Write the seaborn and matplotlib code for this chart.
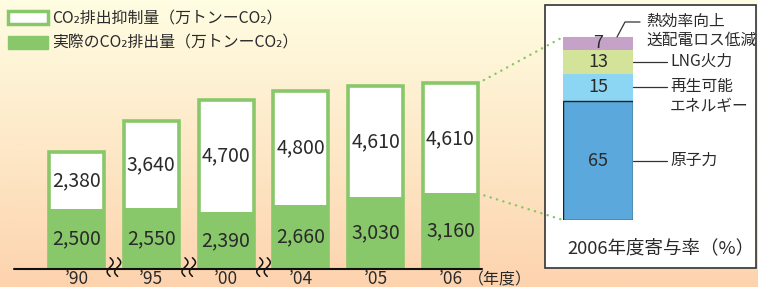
#%% CO2 排出抑制量と実際の排出量
import numpy as np
import pandas as pd
import matplotlib.pyplot as plt
import seaborn as sns
from matplotlib.patches import Patch, Rectangle, ConnectionPatch
from matplotlib.colors import LinearSegmentedColormap

#%% データ
years = ['’90', '’95', '’00', '’04', '’05', '’06']
actual = [2500, 2550, 2390, 2660, 3030, 3160]        # 実際のCO2排出量
suppressed = [2380, 3640, 4700, 4800, 4610, 4610]    # CO2排出抑制量

share_labels = ['原子力', '再生可能\nエネルギー', 'LNG火力', '熱効率向上\n送配電ロス低減']
share_values = [65, 15, 13, 7]

green = '#88c86a'
share_colors = ['#5aa8dc', '#8cd6f4', '#d4e39a', '#c6a2c8']

#%% テーマとフォント
sns.set_theme(style='white')
plt.rcParams['font.family'] = ['Noto Sans CJK JP', 'DejaVu Sans']
txt = '#2a2a2a'

W, H = 758, 287
fig = plt.figure(figsize=(W / 100, H / 100), dpi=100)

def fr(x0, y0, x1, y1):
    # ピクセル(左上原点) -> figure座標 [left, bottom, width, height]
    return [x0 / W, 1 - y1 / H, (x1 - x0) / W, (y1 - y0) / H]

# 背景グラデーション
bg = fig.add_axes([0, 0, 1, 1])
cmap = LinearSegmentedColormap.from_list('bg', ['#fffde2', '#fde9c8', '#fdd3ae'])
bg.imshow(np.linspace(0, 1, 256).reshape(-1, 1), cmap=cmap, aspect='auto',
          extent=(0, W, H, 0))
bg.set_xlim(0, W)
bg.set_ylim(H, 0)
bg.axis('off')
bg.add_patch(Rectangle((545, 5), 211, 263, facecolor='white', edgecolor='#333333', lw=1.2))

#%% 左側: 積み上げ棒グラフ
df = pd.DataFrame({'year': years, 'actual': actual, 'suppressed': suppressed})
df['total'] = df['actual'] + df['suppressed']

spacing = 74.8
bar_w = 55 / spacing
ax = fig.add_axes(fr(0, 0, 540, 269))
ax.set_facecolor('none')
sns.barplot(data=df, x='year', y='total', color='white', edgecolor=green,
            linewidth=2.6, width=bar_w, saturation=1, ax=ax)
sns.barplot(data=df, x='year', y='actual', color=green, linewidth=0,
            width=bar_w, saturation=1, ax=ax)
ax.set_xlim(-76.5 / spacing, (540 - 76.5) / spacing)
ax.set_ylim(0, 269 / 0.0239)

for i, row in df.iterrows():
    ax.text(i, row['actual'] / 2, f"{row['actual']:,}", ha='center', va='center',
            fontsize=14, color=txt)
    ax.text(i, row['actual'] + row['suppressed'] / 2, f"{row['suppressed']:,}",
            ha='center', va='center', fontsize=14, color=txt)

ax.axhline(0, xmin=14 / 540, xmax=482 / 540, color='#111111', lw=1.5, clip_on=False)
for s in ax.spines.values():
    s.set_visible(False)
ax.set_yticks([])
ax.set_xlabel('')
ax.set_ylabel('')
ax.tick_params(axis='x', length=0, pad=0.5, labelsize=12.5, labelcolor=txt)
ax.text(468 / 540, -10.5 / 269, '（年度）', transform=ax.transAxes,
        ha='left', va='center', fontsize=11.5, color=txt)

# 省略記号(波線)
t = np.linspace(0, 1, 60)
yy = 470 - t * 780
for xc in [0.5, 1.5, 2.5]:
    for off in [-0.05, 0.05]:
        ax.plot(xc + off + 0.04 * np.sin(2 * np.pi * t), yy, color='#111111',
                lw=1.1, clip_on=False)

# 凡例
handles = [Patch(facecolor='white', edgecolor=green, lw=2.5),
           Patch(facecolor=green, edgecolor=green)]
fig.legend(handles, ['CO₂排出抑制量（万トンーCO₂）', '実際のCO₂排出量（万トンーCO₂）'],
           loc='upper left', bbox_to_anchor=(8 / W, 1 - 10 / H), frameon=False,
           fontsize=11.4, handlelength=2.5, handleheight=0.9, handletextpad=0.3,
           labelspacing=0.5, borderpad=0, borderaxespad=0, labelcolor=txt)

#%% 右側: 2006年度寄与率
ax2 = fig.add_axes(fr(563, 37, 633, 220))
ax2.set_facecolor('none')
cum = np.cumsum(share_values)
for k in range(len(share_values) - 1, -1, -1):
    blue = k == 0
    sns.barplot(x=['2006'], y=[cum[k]], color=share_colors[k], width=1, saturation=1,
                edgecolor='#222222' if blue else 'none', linewidth=1.0 if blue else 0,
                ax=ax2)
ax2.set_xlim(-0.5, 0.5)
ax2.set_ylim(0, 100)
ax2.axis('off')

px = 1 / 70  # 1ピクセル(x方向)
for k, (lab, v) in enumerate(zip(share_labels, share_values)):
    mid = cum[k] - v / 2
    ax2.text(0, mid, str(v), ha='center', va='center', fontsize=13, color=txt)
    if k < 3:
        ax2.plot([0.5, 0.5 + 34 * px], [mid, mid], color='#333333', lw=0.9, clip_on=False)
        if '\n' in lab:
            ax2.text(0.5 + 37 * px, mid + 5, lab, ha='left', va='top',
                     fontsize=11.3, color=txt, linespacing=1.2)
        else:
            ax2.text(0.5 + 37 * px, mid, lab, ha='left', va='center',
                     fontsize=11.3, color=txt)
    else:
        ax2.plot([19 * px, 27 * px, 42 * px],
                 [100, 108.2, 108.2], color='#333333', lw=0.9, clip_on=False)
        ax2.text(48 * px, 103.3, lab, ha='left', va='center', fontsize=11.3,
                 color=txt, linespacing=1.2)

fig.text(661 / W, 1 - 248 / H, '2006年度寄与率（%）', ha='center', va='center',
         fontsize=13.3, color=txt)

# 点線で'06の棒と寄与率の棒をつなぐ
for yA, yB in [(df['total'].iloc[-1], 100), (df['actual'].iloc[-1], 0)]:
    con = ConnectionPatch(xyA=(5 + bar_w / 2, yA), coordsA=ax.transData,
                          xyB=(-0.5, yB), coordsB=ax2.transData,
                          color=green, lw=1.8, linestyle=(0, (0.05, 2.6)),
                          capstyle='round')
    fig.add_artist(con)

fig.savefig('out.png', dpi=100)
